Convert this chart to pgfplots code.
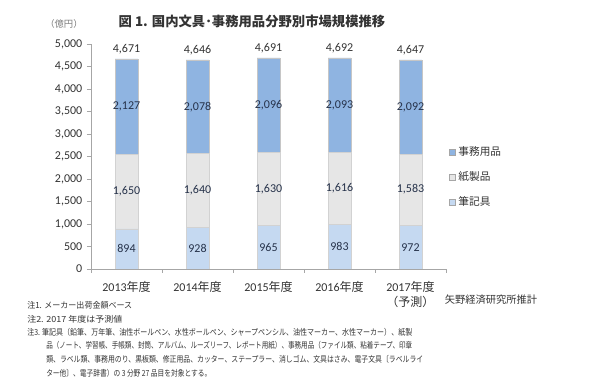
\documentclass[border=0pt]{standalone}
\usepackage{pgfplots}
\pgfplotsset{compat=1.18}
\usepackage{fontspec}
\setmainfont{Carlito}
\newfontfamily\jp{Noto Sans CJK JP}
\definecolor{jimu}{HTML}{8FB4E1}
\definecolor{kami}{HTML}{E6E6E6}
\definecolor{hikki}{HTML}{C5D9F1}
\definecolor{lab}{HTML}{26324A}
\definecolor{axc}{HTML}{A6A6A6}
\definecolor{txt}{HTML}{333333}
\newcommand\noteline[4]{\node[anchor=west, inner sep=0pt, text=txt] at (#1,#2) {\resizebox{#3}{\height}{\jp\fontsize{6.3}{7}\selectfont #4}};}
\begin{document}
\begin{tikzpicture}
\useasboundingbox (0,0) rectangle (450pt,-291pt);
\fill[white] (0,0) rectangle (450pt,-291pt);
\begin{axis}[
  at={(68.25pt,-201.75pt)}, anchor=south west,
  scale only axis, width=266.25pt, height=168.75pt,
  ybar stacked, bar width=0.32,
  xmin=-0.5, xmax=4.5, ymin=0, ymax=5000,
  axis lines=left, axis line style={-, draw=axc},
  xtick={0,1,2,3,4},
  xticklabels={2013{\jp 年度}, 2014{\jp 年度}, 2015{\jp 年度}, 2016{\jp 年度}, {2017{\jp 年度}\\{\jp （予測）}}},
  xticklabel style={align=center, font=\fontsize{9}{11}\selectfont, text=txt, yshift=-3pt},
  minor xtick={-0.5,0.5,1.5,2.5,3.5,4.5},
  major x tick style={draw=none},
  minor x tick style={draw=axc},
  minor tick length=3pt,
  ytick={0,500,...,5000},
  y tick style={draw=axc},
  major tick length=3pt,
  tick align=outside,
  yticklabel style={font=\fontsize{9}{10}\selectfont, text=txt},
  /pgf/number format/1000 sep={,},
  /pgf/number format/assume math mode=true,
  reverse legend,
  legend style={at={(1.008,0.556)}, anchor=north west, draw=none, fill=none, inner sep=0pt,
    font=\jp\fontsize{8}{9}\selectfont, row sep=6.5pt, text=txt},
  legend cell align=left,
  legend image code/.code={\draw[#1, draw=gray!70] (0pt,-2.3pt) rectangle (4.6pt,2.3pt);},
]
\addplot[fill=hikki, draw=white!65!gray] coordinates {(0,894) (1,928) (2,965) (3,983) (4,972)};
\addplot[fill=kami, draw=white!65!gray] coordinates {(0,1650) (1,1640) (2,1630) (3,1616) (4,1583)};
\addplot[fill=jimu, draw=white!55!gray] coordinates {(0,2127) (1,2078) (2,2096) (3,2093) (4,2092)};
\legend{筆記具, 紙製品, 事務用品}
\end{axis}
\begin{axis}[
  at={(68.25pt,-201.75pt)}, anchor=south west,
  scale only axis, width=266.25pt, height=168.75pt,
  xmin=-0.5, xmax=4.5, ymin=0, ymax=5000, hide axis,
  /pgf/number format/1000 sep={,},
  /pgf/number format/assume math mode=true,
]
% segment labels at the middle of each segment
\addplot[ybar, bar shift=0pt, bar width=1pt, draw=none, fill=none, nodes near coords, point meta=explicit,
  every node near coord/.append style={anchor=center, font=\fontsize{9}{10}\selectfont, text=lab}]
  coordinates {
   (0,447) [894] (1,464) [928] (2,482.5) [965] (3,491.5) [983] (4,486) [972]
   (0,1719) [1650] (1,1748) [1640] (2,1780) [1630] (3,1791) [1616] (4,1763.5) [1583]
   (0,3607.5) [2127] (1,3607) [2078] (2,3643) [2096] (3,3645.5) [2093] (4,3601) [2092]
  };
% totals above the bars
\addplot[ybar, bar shift=0pt, bar width=1pt, draw=none, fill=none, nodes near coords,
  every node near coord/.append style={anchor=south, font=\fontsize{9}{10}\selectfont, text=txt}]
  coordinates {(0,4671) (1,4646) (2,4691) (3,4692) (4,4647)};
\end{axis}
\node[anchor=center, inner sep=0pt, text=txt] at (189pt,-15.75pt) {\resizebox{200pt}{!}{\jp\bfseries\fontsize{10}{12}\selectfont 図 1. 国内文具･事務用品分野別市場規模推移}};
\node[text=gray, font=\jp\fontsize{7}{8}\selectfont] at (48pt,-18pt) {（億円）};
\node[text=txt, font=\jp\fontsize{7.7}{9}\selectfont] at (368.25pt,-225pt) {矢野経済研究所推計};
\noteline{20.25pt}{-229.3pt}{78.75pt}{注1. メーカー出荷金額ベース}
\noteline{20.25pt}{-239.25pt}{71.25pt}{注2. 2017 年度は予測値}
\noteline{20.25pt}{-249.2pt}{288.75pt}{注3. 筆記具（鉛筆、万年筆、油性ボールペン、水性ボールペン、シャープペンシル、油性マーカー、水性マーカー）、紙製}
\noteline{34.5pt}{-259.3pt}{274.5pt}{品（ノート、学習帳、手帳類、封筒、アルバム、ルーズリーフ、レポート用紙）、事務用品（ファイル類、粘着テープ、印章}
\noteline{34.5pt}{-269.8pt}{282.75pt}{類、ラベル類、事務用のり、黒板類、修正用品、カッター、ステープラー、消しゴム、文具はさみ、電子文具〔ラベルライ}
\noteline{34.5pt}{-280pt}{123.75pt}{ター他〕、電子辞書）の 3 分野 27 品目を対象とする。}
\end{tikzpicture}
\end{document}
